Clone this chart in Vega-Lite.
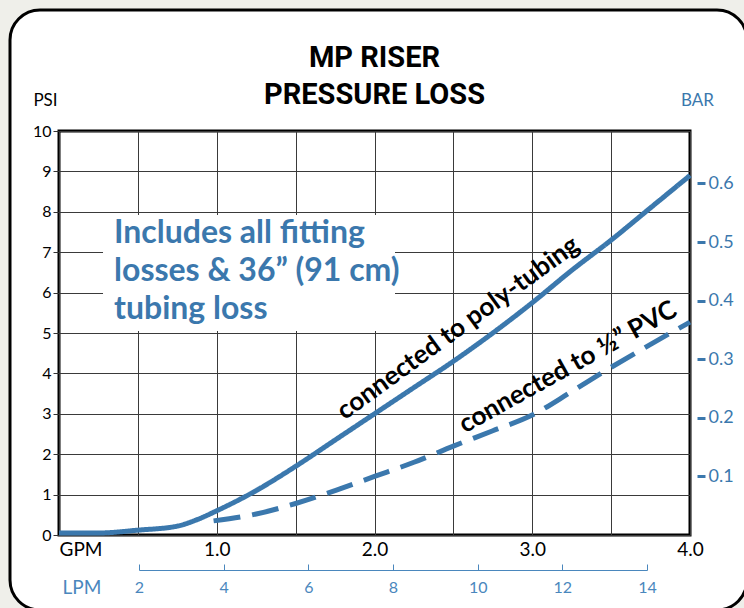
{
  "$schema": "https://vega.github.io/schema/vega-lite/v6.json",
  "autosize": {"type": "none"},
  "width": 631,
  "height": 404,
  "padding": {"left": 59, "top": 131, "right": 54, "bottom": 73},
  "background": "white",
  "config": {
    "view": {"stroke": "black", "strokeWidth": 3},
    "font": "Lato"
  },
  "title": {
    "text": ["MP RISER", "PRESSURE LOSS"],
    "font": "Roboto",
    "fontSize": 29,
    "fontWeight": "bold",
    "lineHeight": 37,
    "anchor": "middle",
    "color": "black",
    "offset": -140
  },
  "datasets": {
    "curves": [
      {"gpm": 0.0, "psi": 0.05, "series": "poly-tubing"},
      {"gpm": 0.25, "psi": 0.05, "series": "poly-tubing"},
      {"gpm": 0.5, "psi": 0.12, "series": "poly-tubing"},
      {"gpm": 0.75, "psi": 0.22, "series": "poly-tubing"},
      {"gpm": 0.875, "psi": 0.38, "series": "poly-tubing"},
      {"gpm": 1.0, "psi": 0.6, "series": "poly-tubing"},
      {"gpm": 1.25, "psi": 1.1, "series": "poly-tubing"},
      {"gpm": 1.5, "psi": 1.7, "series": "poly-tubing"},
      {"gpm": 1.75, "psi": 2.35, "series": "poly-tubing"},
      {"gpm": 2.0, "psi": 3.0, "series": "poly-tubing"},
      {"gpm": 2.25, "psi": 3.65, "series": "poly-tubing"},
      {"gpm": 2.5, "psi": 4.3, "series": "poly-tubing"},
      {"gpm": 2.75, "psi": 5.0, "series": "poly-tubing"},
      {"gpm": 3.0, "psi": 5.75, "series": "poly-tubing"},
      {"gpm": 3.25, "psi": 6.55, "series": "poly-tubing"},
      {"gpm": 3.5, "psi": 7.3, "series": "poly-tubing"},
      {"gpm": 3.75, "psi": 8.1, "series": "poly-tubing"},
      {"gpm": 4.0, "psi": 8.9, "series": "poly-tubing"},
      {"gpm": 0.98, "psi": 0.35, "series": "1/2 PVC"},
      {"gpm": 1.25, "psi": 0.52, "series": "1/2 PVC"},
      {"gpm": 1.5, "psi": 0.78, "series": "1/2 PVC"},
      {"gpm": 1.75, "psi": 1.1, "series": "1/2 PVC"},
      {"gpm": 2.0, "psi": 1.45, "series": "1/2 PVC"},
      {"gpm": 2.25, "psi": 1.8, "series": "1/2 PVC"},
      {"gpm": 2.5, "psi": 2.2, "series": "1/2 PVC"},
      {"gpm": 2.75, "psi": 2.58, "series": "1/2 PVC"},
      {"gpm": 3.0, "psi": 2.97, "series": "1/2 PVC"},
      {"gpm": 3.25, "psi": 3.55, "series": "1/2 PVC"},
      {"gpm": 3.5, "psi": 4.15, "series": "1/2 PVC"},
      {"gpm": 3.75, "psi": 4.72, "series": "1/2 PVC"},
      {"gpm": 4.0, "psi": 5.27, "series": "1/2 PVC"}
    ],
    "note": [
      {"label": "Includes all fitting\nlosses & 36” (91 cm)\ntubing loss", "gpm": 0.349, "psi": 7.23, "gpm2": 0.279, "psi2": 7.92, "gpm3": 2.13, "psi3": 5.05}
    ],
    "frame": [
      {"part": "outside", "gpm": -0.4374, "gpm2": 4.488, "psi": 13.49, "psi2": -2.351},
      {"part": "card", "gpm": -0.3106, "gpm2": 4.3613, "psi": 12.995, "psi2": -1.856}
    ],
    "curveLabels": [
      {"label": "connected to poly-tubing", "gpm": 2.56, "psi": 4.96, "angle": -36},
      {"label": "connected to ½” PVC", "gpm": 3.25, "psi": 3.98, "angle": -29}
    ],
    "bar": [{"bar": 0}, {"bar": 0.68948}],
    "lpm": [{"lpm": 2}, {"lpm": 14}]
  },
  "resolve": {"scale": {"x": "independent", "y": "independent"}},
  "layer": [
    {
      "layer": [
        {
          "data": {"name": "frame"},
          "transform": [{"filter": "datum.part == 'outside'"}],
          "mark": {"type": "rect", "fill": "none", "stroke": "#efefea", "strokeWidth": 40, "cornerRadius": 50, "clip": false},
          "encoding": {
            "x": {"field": "gpm", "type": "quantitative", "scale": {"domain": [0, 4], "nice": false, "zero": false}, "axis": {
              "values": [0, 0.25, 0.5, 0.75, 1, 1.25, 1.5, 1.75, 2, 2.25, 2.5, 2.75, 3, 3.25, 3.5, 3.75, 4],
              "grid": true, "gridColor": "#3a3a3a", "gridWidth": 1, "gridOpacity": 1,
              "ticks": false, "domain": false, "title": null,
              "labelExpr": "datum.value == 0 ? 'GPM' : (datum.value % 1 == 0 ? format(datum.value, '.1f') : '')",
              "labelAlign": {"condition": {"test": "datum.value == 0", "value": "left"}, "value": "center"},
              "labelFlush": false, "labelOverlap": false, "labelBound": false,
              "labelFontSize": 19, "labelColor": "black", "labelPadding": 5, "labelFont": "Lato"
            }},
            "x2": {"field": "gpm2"},
            "y": {"field": "psi", "type": "quantitative", "scale": {"domain": [0, 10], "nice": false, "zero": false}, "axis": {
              "values": [0, 1, 2, 3, 4, 5, 6, 7, 8, 9, 10],
              "grid": true, "gridColor": "#3a3a3a", "gridWidth": 1, "gridOpacity": 1,
              "ticks": true, "tickSize": 6, "tickColor": "#333", "domain": false,
              "labelFontSize": 16, "labelColor": "black", "labelPadding": 2, "labelFont": "Lato",
              "title": "PSI", "titleAngle": 0, "titleX": -14, "titleY": -31, "titleAlign": "center", "titleBaseline": "middle",
              "titleFontWeight": "normal", "titleFontSize": 17, "titleColor": "black", "titleFont": "Lato"
            }},
            "y2": {"field": "psi2"}
          }
        },
        {
          "data": {"name": "frame"},
          "transform": [{"filter": "datum.part == 'card'"}],
          "mark": {"type": "rect", "fill": "none", "stroke": "black", "strokeWidth": 3, "cornerRadius": 30, "clip": false},
          "encoding": {
            "x": {"field": "gpm", "type": "quantitative"},
            "x2": {"field": "gpm2"},
            "y": {"field": "psi", "type": "quantitative"},
            "y2": {"field": "psi2"}
          }
        },
        {
          "data": {"name": "note"},
          "mark": {"type": "rect", "fill": "white", "stroke": null},
          "encoding": {
            "x": {"field": "gpm2", "type": "quantitative"},
            "x2": {"field": "gpm3"},
            "y": {"field": "psi2", "type": "quantitative"},
            "y2": {"field": "psi3"}
          }
        },
        {
          "data": {"name": "curves"},
          "mark": {"type": "line", "strokeWidth": 5, "interpolate": "monotone", "color": "#3b78ad"},
          "encoding": {
            "x": {"field": "gpm", "type": "quantitative"},
            "y": {"field": "psi", "type": "quantitative"},
            "detail": {"field": "series"},
            "strokeDash": {"field": "series", "type": "nominal", "scale": {"domain": ["poly-tubing", "1/2 PVC"], "range": [[1, 0], [27, 12]]}, "legend": null}
          }
        },
        {
          "data": {"name": "note"},
          "mark": {"type": "text", "align": "left", "baseline": "alphabetic", "font": "Lato", "fontSize": 32, "fontWeight": "bold", "color": "#3b78ad", "lineBreak": "\n", "lineHeight": 38},
          "encoding": {
            "x": {"field": "gpm", "type": "quantitative"},
            "y": {"field": "psi", "type": "quantitative"},
            "text": {"field": "label"}
          }
        },
        {
          "data": {"name": "curveLabels"},
          "mark": {"type": "text", "align": "center", "baseline": "alphabetic", "font": "Lato", "fontSize": 26, "fontWeight": "bold", "color": "black"},
          "encoding": {
            "x": {"field": "gpm", "type": "quantitative"},
            "y": {"field": "psi", "type": "quantitative"},
            "text": {"field": "label"},
            "angle": {"field": "angle", "type": "quantitative", "scale": null}
          }
        }
      ]
    },
    {
      "data": {"name": "bar"},
      "mark": {"type": "point", "opacity": 0},
      "encoding": {
        "y": {"field": "bar", "type": "quantitative", "scale": {"domain": [0, 0.68948], "nice": false, "zero": false}, "axis": {
          "orient": "right", "values": [0.1, 0.2, 0.3, 0.4, 0.5, 0.6], "format": ".1f",
          "offset": 7, "tickSize": 8, "tickWidth": 3, "tickColor": "#3b78ad", "domain": false, "grid": false,
          "labelColor": "#3b78ad", "labelFontSize": 18, "labelPadding": 3, "labelFont": "Lato",
          "title": "BAR", "titleAngle": 0, "titleX": 0, "titleY": -31, "titleAlign": "center", "titleBaseline": "middle",
          "titleFontWeight": "normal", "titleFontSize": 17, "titleColor": "#3b78ad", "titleFont": "Lato"
        }}
      }
    },
    {
      "data": {"name": "lpm"},
      "mark": {"type": "point", "opacity": 0},
      "encoding": {
        "x": {"field": "lpm", "type": "quantitative", "scale": {"domain": [2, 14], "range": [80, 588], "nice": false, "zero": false}, "axis": {
          "orient": "bottom", "values": [2, 4, 6, 8, 10, 12, 14], "offset": 35,
          "tickSize": -6, "tickColor": "#4a87bd", "domainColor": "#4a87bd", "domainWidth": 1.2, "grid": false,
          "labelColor": "#4a87bd", "labelFontSize": 16, "labelPadding": 15, "labelFont": "Lato", "labelFlush": false,
          "title": "LPM", "titleAngle": 0, "titleX": 3, "titleY": 17, "titleAlign": "left", "titleBaseline": "middle",
          "titleFontWeight": "normal", "titleFontSize": 19, "titleColor": "#4a87bd", "titleFont": "Lato"
        }}
      }
    }
  ]
}
